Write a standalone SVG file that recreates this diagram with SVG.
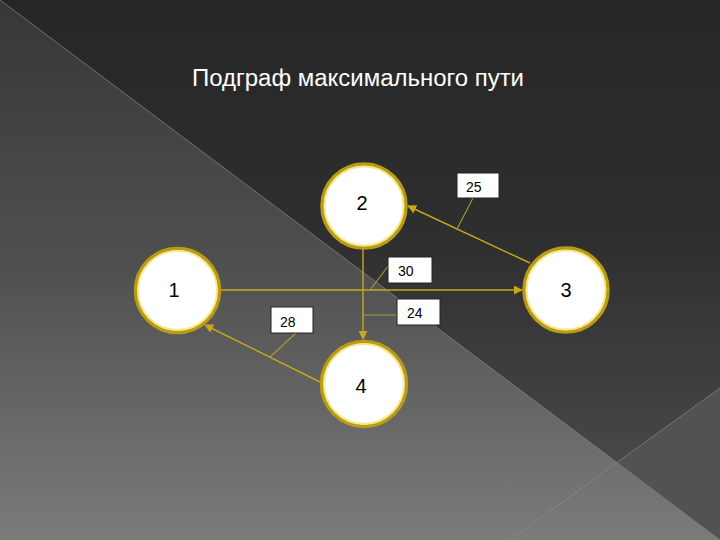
<svg xmlns="http://www.w3.org/2000/svg" width="720" height="540" viewBox="0 0 720 540">
<defs>
<linearGradient id="gLight" x1="0" y1="0" x2="0" y2="1">
<stop offset="0" stop-color="#373737"/><stop offset="0.5" stop-color="#505050"/><stop offset="1" stop-color="#7b7b7b"/>
</linearGradient>
<linearGradient id="gDark" x1="0" y1="0" x2="0" y2="540" gradientUnits="userSpaceOnUse">
<stop offset="0" stop-color="#262626"/><stop offset="0.45" stop-color="#2f2f2f"/><stop offset="1" stop-color="#505050"/>
</linearGradient>
<marker id="arr" viewBox="0 0 10 10" refX="9" refY="5" markerWidth="9" markerHeight="9" markerUnits="userSpaceOnUse" orient="auto">
<path d="M0,0 L10,5 L0,10 Z" fill="#c8a818"/>
</marker>
<style>
.node circle.o{fill:#ffffff;stroke:#b99c14;stroke-width:3.5}
.node circle.i{fill:none;stroke:#f4e47c;stroke-width:2;opacity:.85}
.node text{font-family:"Liberation Sans",Arial,sans-serif;font-size:20px;fill:#000;text-anchor:middle}
.edge{stroke:#c8a818;stroke-width:1.4;fill:none}
.lead{stroke:#a89a3c;stroke-width:1.1;fill:none}
.lbl rect{fill:#ffffff;stroke:#222;stroke-width:1}
.lbl text{font-family:"Liberation Sans",Arial,sans-serif;font-size:14px;fill:#000}
.bgline{stroke:#8c8c8c;stroke-width:1;opacity:.7}
</style>
</defs>
<g id="background">
<rect x="0" y="0" width="720" height="540" fill="url(#gLight)"/>
<polygon points="0,0 720,0 720,540" fill="url(#gDark)"/>
<polygon points="720,388 720,540 617,463" fill="#525252"/>
<line class="bgline" x1="0" y1="0" x2="720" y2="540"/>
<line class="bgline" x1="720" y1="388" x2="510" y2="540"/>
</g>
<text x="358" y="86" font-family="Liberation Sans, Arial, sans-serif" font-size="23" fill="#ffffff" text-anchor="middle" textLength="332" lengthAdjust="spacingAndGlyphs">Подграф максимального пути</text>
<g id="connectors">
<line class="edge" x1="221" y1="290" x2="522" y2="290" marker-end="url(#arr)"/>
<line class="edge" x1="530" y1="263" x2="408" y2="206" marker-end="url(#arr)"/>
<line class="edge" x1="363" y1="249" x2="363" y2="339" marker-end="url(#arr)"/>
<line class="edge" x1="320" y1="382" x2="205" y2="325" marker-end="url(#arr)"/>
<line class="lead" x1="473" y1="198" x2="457" y2="229"/>
<line class="lead" x1="389" y1="265" x2="370" y2="290"/>
<line class="lead" x1="363" y1="315" x2="397" y2="315"/>
<line class="lead" x1="296" y1="333" x2="270" y2="357"/>
</g>
<g id="node1" class="node"><circle class="o" cx="177.5" cy="290.5" r="42"/><circle class="i" cx="177.5" cy="290.5" r="39.5"/><text x="174" y="297">1</text></g>
<g id="node2" class="node"><circle class="o" cx="364" cy="206" r="42"/><circle class="i" cx="364" cy="206" r="39.5"/><text x="362" y="210">2</text></g>
<g id="node3" class="node"><circle class="o" cx="566" cy="290" r="42"/><circle class="i" cx="566" cy="290" r="39.5"/><text x="566" y="297">3</text></g>
<g id="node4" class="node"><circle class="o" cx="364" cy="384" r="42.5"/><circle class="i" cx="364" cy="384" r="40"/><text x="361" y="393">4</text></g>
<g id="label25" class="lbl"><rect x="457" y="173" width="42" height="25"/><text x="466" y="192">25</text></g>
<g id="label30" class="lbl"><rect x="388" y="257" width="44" height="26"/><text x="398" y="276">30</text></g>
<g id="label24" class="lbl"><rect x="397" y="299" width="43" height="26"/><text x="407" y="318">24</text></g>
<g id="label28" class="lbl"><rect x="271" y="307" width="42" height="26"/><text x="280" y="327">28</text></g>
</svg>
